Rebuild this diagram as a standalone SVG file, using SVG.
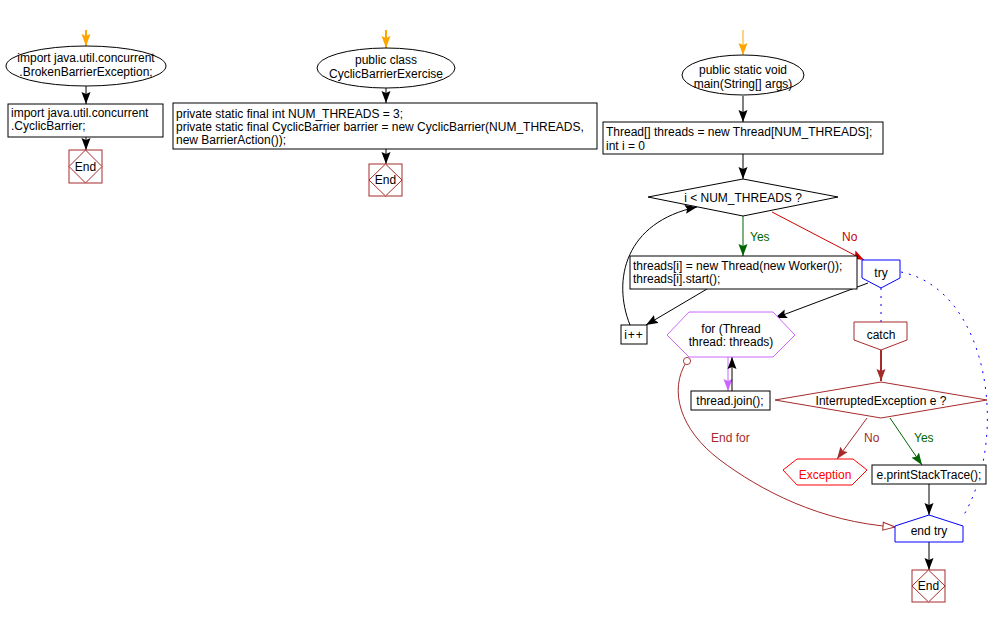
<svg xmlns="http://www.w3.org/2000/svg" width="1001" height="617" viewBox="0 0 1001 617">
<style>
text{font-family:"Liberation Sans",Arial,sans-serif;font-size:12px;fill:#000}
.c{text-anchor:middle}
.box{fill:#fff;stroke:#000;stroke-width:1}
.end{fill:#fff;stroke:#A52A2A;stroke-width:1}
.ln{fill:none;stroke:#000;stroke-width:1}
</style>
<defs>
<marker id="ab" viewBox="0 0 12 10" refX="12" refY="5" markerWidth="12" markerHeight="10" markerUnits="userSpaceOnUse" orient="auto"><path d="M0,0.5 L12,5 L0,9.5 L2,5 Z" fill="#000"/></marker>
<marker id="ao" viewBox="0 0 12 10" refX="12" refY="5" markerWidth="12" markerHeight="10" markerUnits="userSpaceOnUse" orient="auto"><path d="M0,0.5 L12,5 L0,9.5 L2,5 Z" fill="#FFA500"/></marker>
<marker id="ag" viewBox="0 0 12 10" refX="12" refY="5" markerWidth="12" markerHeight="10" markerUnits="userSpaceOnUse" orient="auto"><path d="M0,0.5 L12,5 L0,9.5 L2,5 Z" fill="#006400"/></marker>
<marker id="ar" viewBox="0 0 12 10" refX="12" refY="5" markerWidth="12" markerHeight="10" markerUnits="userSpaceOnUse" orient="auto"><path d="M0,0.5 L12,5 L0,9.5 L2,5 Z" fill="#CC0000"/></marker>
<marker id="abr" viewBox="0 0 12 10" refX="12" refY="5" markerWidth="12" markerHeight="10" markerUnits="userSpaceOnUse" orient="auto"><path d="M0,0.5 L12,5 L0,9.5 L2,5 Z" fill="#A52A2A"/></marker>
<marker id="ap" viewBox="0 0 12 10" refX="12" refY="5" markerWidth="12" markerHeight="10" markerUnits="userSpaceOnUse" orient="auto"><path d="M0,0.5 L12,5 L0,9.5 L2,5 Z" fill="#CC66FF"/></marker>
<marker id="ah" viewBox="0 0 14 10" refX="13" refY="5" markerWidth="14" markerHeight="10" markerUnits="userSpaceOnUse" orient="auto"><path d="M1,1 L13,5 L1,9 Z" fill="#fff" stroke="#A52A2A"/></marker>
<marker id="circ" viewBox="0 0 10 10" refX="5" refY="5" markerWidth="9" markerHeight="9" markerUnits="userSpaceOnUse"><circle cx="5" cy="5" r="4" fill="#fff" stroke="#A52A2A"/></marker>
</defs>

<g id="connectors">
<line x1="86" y1="30" x2="86" y2="46" stroke="#FFA500" stroke-width="2" marker-end="url(#ao)"/>
<line x1="86" y1="86" x2="86" y2="104" class="ln" stroke-width="2" marker-end="url(#ab)"/>
<line x1="86" y1="137" x2="86" y2="150" class="ln" stroke-width="2" marker-end="url(#ab)"/>
<line x1="386" y1="30" x2="386" y2="48" stroke="#FFA500" stroke-width="2" marker-end="url(#ao)"/>
<line x1="386" y1="88" x2="386" y2="103" class="ln" stroke-width="2" marker-end="url(#ab)"/>
<line x1="386" y1="149" x2="386" y2="164" class="ln" stroke-width="2" marker-end="url(#ab)"/>
<line x1="743" y1="30" x2="743" y2="55" stroke="#FFA500" stroke-width="1" marker-end="url(#ao)"/>
<line x1="743" y1="96" x2="743" y2="122" class="ln" marker-end="url(#ab)"/>
<line x1="743" y1="154" x2="743" y2="179" class="ln" marker-end="url(#ab)"/>
<line x1="743" y1="216" x2="743" y2="256" stroke="#006400" marker-end="url(#ag)"/>
<text x="750" y="241" style="fill:#006400">Yes</text>
<line x1="772" y1="212" x2="864" y2="260" stroke="#CC0000" marker-end="url(#ar)"/>
<text x="842" y="241" style="fill:#CC0000">No</text>
<line x1="707" y1="289" x2="646" y2="325" class="ln" marker-end="url(#ab)"/>
<path d="M630,325 C612,280 625,222 697,207" class="ln" marker-end="url(#ab)"/>
<line x1="868" y1="283" x2="775" y2="318" class="ln" marker-end="url(#ab)"/>
<line x1="728" y1="357" x2="728" y2="391" stroke="#CC66FF" marker-end="url(#ap)"/>
<line x1="732" y1="391" x2="732" y2="357" class="ln" marker-end="url(#ab)"/>
<path d="M687,361 C668,390 680,430 720,460 S820,522 895,527" fill="none" stroke="#A52A2A" marker-start="url(#circ)" marker-end="url(#ah)"/>
<text x="711" y="442" style="fill:#A52A2A">End for</text>
<line x1="881" y1="288" x2="881" y2="322" stroke="#0000FF" stroke-dasharray="2,6"/>
<path d="M901,272 C990,290 1010,440 962,518" fill="none" stroke="#0000FF" stroke-dasharray="2,6"/>
<line x1="881" y1="350" x2="881" y2="381" stroke="#A52A2A" stroke-width="2" marker-end="url(#abr)"/>
<line x1="867" y1="418" x2="837" y2="459" stroke="#A52A2A" marker-end="url(#abr)"/>
<text x="864" y="442" style="fill:#A52A2A">No</text>
<line x1="890" y1="418" x2="922" y2="465" stroke="#006400" marker-end="url(#ag)"/>
<text x="914" y="442" style="fill:#006400">Yes</text>
<line x1="929" y1="484" x2="929" y2="515" class="ln" stroke-width="2" marker-end="url(#ab)"/>
<line x1="929" y1="542" x2="929" y2="570" class="ln" stroke-width="2" marker-end="url(#ab)"/>
</g>

<g id="n1">
<ellipse cx="86" cy="66" rx="80" ry="20" class="box"/>
<text x="86" y="62" class="c">import java.util.concurrent</text>
<text x="86" y="76" class="c">.BrokenBarrierException;</text>
</g>
<g id="n2">
<rect x="8" y="104" width="155" height="33" class="box"/>
<text x="11" y="117">import java.util.concurrent</text>
<text x="11" y="130">.CyclicBarrier;</text>
</g>
<g id="n3">
<rect x="69" y="150" width="33" height="33" class="end"/>
<path d="M85.5,150 L102,166.5 L85.5,183 L69,166.5 Z" class="end"/>
<text x="85.5" y="171" class="c">End</text>
</g>

<g id="n4">
<ellipse cx="386" cy="68" rx="69" ry="20" class="box"/>
<text x="386" y="64" class="c">public class</text>
<text x="386" y="78" class="c">CyclicBarrierExercise</text>
</g>
<g id="n5">
<rect x="173" y="103" width="424" height="46" class="box"/>
<text x="176" y="118">private static final int NUM_THREADS = 3;</text>
<text x="176" y="131">private static final CyclicBarrier barrier = new CyclicBarrier(NUM_THREADS,</text>
<text x="176" y="144">new BarrierAction());</text>
</g>
<g id="n6">
<rect x="369" y="164" width="33" height="32" class="end"/>
<path d="M385.5,164 L402,180 L385.5,196 L369,180 Z" class="end"/>
<text x="385.5" y="184" class="c">End</text>
</g>

<g id="n7">
<ellipse cx="743" cy="75" rx="61" ry="20" class="box"/>
<text x="743" y="74" class="c">public static void</text>
<text x="743" y="88" class="c">main(String[] args)</text>
</g>
<g id="n8">
<rect x="603" y="122" width="280" height="32" class="box"/>
<text x="606" y="136">Thread[] threads = new Thread[NUM_THREADS];</text>
<text x="606" y="150">int i = 0</text>
</g>
<g id="n9">
<path d="M648,197 L743,179 L838,197 L743,216 Z" class="box"/>
<text x="743" y="202" class="c">i &lt; NUM_THREADS ?</text>
</g>
<g id="n10">
<rect x="630" y="256" width="227" height="33" class="box"/>
<text x="633" y="270">threads[i] = new Thread(new Worker());</text>
<text x="633" y="283">threads[i].start();</text>
</g>
<g id="n11">
<rect x="621" y="325" width="26" height="19" class="box"/>
<text x="634" y="339" class="c" letter-spacing="1">i++</text>
</g>
<g id="n12">
<path d="M862,260 L900,260 L900,278 L881,288 L862,278 Z" fill="#fff" stroke="#0000FF"/>
<text x="881" y="277" class="c">try</text>
</g>
<g id="n13">
<path d="M667,335 L689,312 L773,312 L795,335 L773,357 L689,357 Z" fill="#fff" stroke="#CC66FF"/>
<text x="731" y="333" class="c">for (Thread</text>
<text x="731" y="346" class="c">thread: threads)</text>
</g>
<g id="n14">
<rect x="691" y="391" width="79" height="19" class="box"/>
<text x="730" y="405" class="c">thread.join();</text>
</g>
<g id="n15">
<path d="M854,322 L907,322 L907,340 L881,350 L854,340 Z" fill="#fff" stroke="#A52A2A"/>
<text x="881" y="339" class="c">catch</text>
</g>
<g id="n16">
<path d="M775,400 L881,382 L987,400 L881,418 Z" fill="#fff" stroke="#A52A2A"/>
<text x="881" y="405" class="c">InterruptedException e ?</text>
</g>
<g id="n17">
<path d="M783,470 L797,459 L853,459 L867,470 L852,485 L797,485 Z" fill="#fff" stroke="#FF0000"/>
<text x="825" y="479" class="c" style="fill:#FF0000">Exception</text>
</g>
<g id="n18">
<rect x="872" y="465" width="114" height="19" class="box"/>
<text x="929" y="479" class="c">e.printStackTrace();</text>
</g>
<g id="n19">
<path d="M895,526 L929,515 L963,526 L963,542 L895,542 Z" fill="#fff" stroke="#0000FF"/>
<text x="929" y="535" class="c">end try</text>
</g>
<g id="n20">
<rect x="912" y="570" width="33" height="32" class="end"/>
<path d="M928.5,570 L945,586 L928.5,602 L912,586 Z" class="end"/>
<text x="928.5" y="590" class="c">End</text>
</g>
</svg>
